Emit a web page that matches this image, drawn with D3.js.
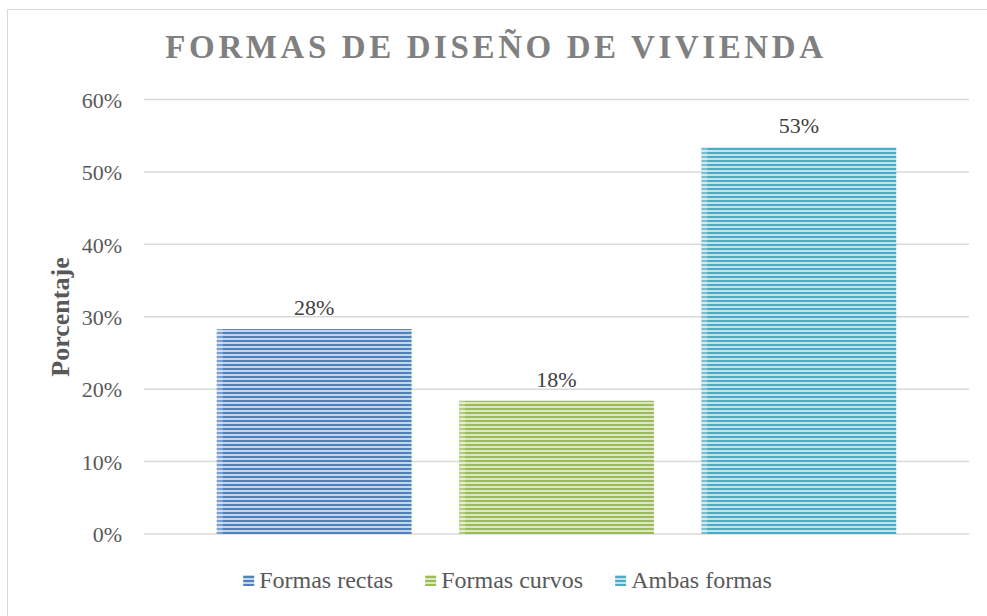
<!DOCTYPE html>
<html>
<head>
<meta charset="utf-8">
<script src="https://cdn.jsdelivr.net/npm/d3@7/dist/d3.min.js"></script>
<style>
  html, body { margin: 0; padding: 0; background: #fff; }
  svg { display: block; }
  svg text { font-family: "Liberation Serif", "Times New Roman", serif; }
</style>
</head>
<body>
<svg id="chart" width="987" height="616"></svg>
<script>
// Chart data
const categories = ["Formas rectas", "Formas curvos", "Ambas formas"];
const values = [0.283, 0.184, 0.534];
const tickValues = [0, 0.1, 0.2, 0.3, 0.4, 0.5, 0.6];
const darkColors = ["#4f81bd", "#9bbb59", "#4bacc6"];
const lightColors = ["#c5d5ea", "#dce8c4", "#c3e4ec"];
const titleText = "FORMAS DE DISEÑO DE VIVIENDA";
const yTitle = "Porcentaje";

const FONT = "Liberation Serif, Times New Roman, serif";
const svg = d3.select("#chart");
const W = 987, H = 616;

// outer frame
svg.append("rect")
  .attr("x", 7.5).attr("y", 9.5)
  .attr("width", W + 10).attr("height", H + 10)
  .attr("fill", "#fff").attr("stroke", "#d9d9d9").attr("stroke-width", 1);

// striped fills
const defs = svg.append("defs");
categories.forEach((c, i) => {
  const p = defs.append("pattern")
    .attr("id", "stripe" + i)
    .attr("patternUnits", "userSpaceOnUse")
    .attr("width", 8).attr("height", 4);
  p.append("rect").attr("width", 8).attr("height", 4).attr("fill", lightColors[i]);
  p.append("rect").attr("y", 0).attr("width", 8).attr("height", 2).attr("fill", darkColors[i]);
});

const gridLeft = 144, gridRight = 969;
const y = d3.scaleLinear().domain([0, 0.6]).range([534, 99.5]);
const x = d3.scaleBand()
  .domain(categories)
  .range([193, 920])
  .paddingInner(0.196)
  .paddingOuter(0.098);

// gridlines
svg.append("g")
  .selectAll("line")
  .data(tickValues)
  .join("line")
  .attr("x1", gridLeft).attr("x2", gridRight)
  .attr("y1", d => y(d)).attr("y2", d => y(d))
  .attr("stroke", "#d9d9d9").attr("stroke-width", 1.5);

// y axis labels
const yAxis = d3.axisLeft(y)
  .tickValues(tickValues)
  .tickFormat(d3.format(".0%"))
  .tickSize(0)
  .tickPadding(0);
const yg = svg.append("g")
  .attr("transform", "translate(122,0)")
  .call(yAxis);
yg.attr("font-family", FONT);
yg.select(".domain").remove();
yg.selectAll("text")
  .attr("font-family", FONT)
  .attr("font-size", 22)
  .attr("fill", "#595959")
  .attr("dy", "0.35em");

// bars
svg.append("g")
  .selectAll("rect")
  .data(values)
  .join("rect")
  .attr("x", (d, i) => x(categories[i]))
  .attr("width", x.bandwidth())
  .attr("y", d => y(d))
  .attr("height", d => y(0) - y(d))
  .attr("fill", (d, i) => `url(#stripe${i})`);

// soft left edge on each bar
svg.append("g")
  .selectAll("rect")
  .data(values)
  .join("rect")
  .attr("x", (d, i) => x(categories[i]))
  .attr("width", 6)
  .attr("y", d => y(d))
  .attr("height", d => y(0) - y(d))
  .attr("fill", "#ffffff")
  .attr("opacity", 0.25);

// value labels
const pct = d3.format(".0%");
svg.append("g")
  .selectAll("text")
  .data(values)
  .join("text")
  .attr("x", (d, i) => x(categories[i]) + x.bandwidth() / 2)
  .attr("y", d => y(d) - 14)
  .attr("text-anchor", "middle")
  .attr("font-family", FONT)
  .attr("font-size", 22)
  .attr("fill", "#404040")
  .text(d => pct(d));

// title
svg.append("text")
  .attr("x", 496).attr("y", 58)
  .attr("text-anchor", "middle")
  .attr("font-family", FONT)
  .attr("font-size", 33)
  .attr("font-weight", "bold")
  .attr("letter-spacing", 3.6)
  .attr("fill", "#808080")
  .text(titleText);

// y axis title
svg.append("text")
  .attr("transform", "translate(69,317) rotate(-90)")
  .attr("text-anchor", "middle")
  .attr("font-family", FONT)
  .attr("font-size", 26)
  .attr("font-weight", "bold")
  .attr("fill", "#595959")
  .text(yTitle);

// legend
const legend = svg.append("g");
const items = legend.selectAll("g")
  .data(categories)
  .join("g");
items.append("rect")
  .attr("width", 11).attr("height", 11)
  .attr("y", -13)
  .attr("fill", (d, i) => `url(#stripe${i})`);
items.append("text")
  .attr("x", 16)
  .attr("font-family", FONT)
  .attr("font-size", 24)
  .attr("fill", "#595959")
  .text(d => d);
let widths = [];
items.each(function () {
  widths.push(16 + d3.select(this).select("text").node().getComputedTextLength());
});
const gap = 32;
const total = d3.sum(widths) + gap * (widths.length - 1);
let cx = 507.5 - total / 2;
items.attr("transform", (d, i) => {
  const t = `translate(${cx},588)`;
  cx += widths[i] + gap;
  return t;
});
</script>
</body>
</html>
